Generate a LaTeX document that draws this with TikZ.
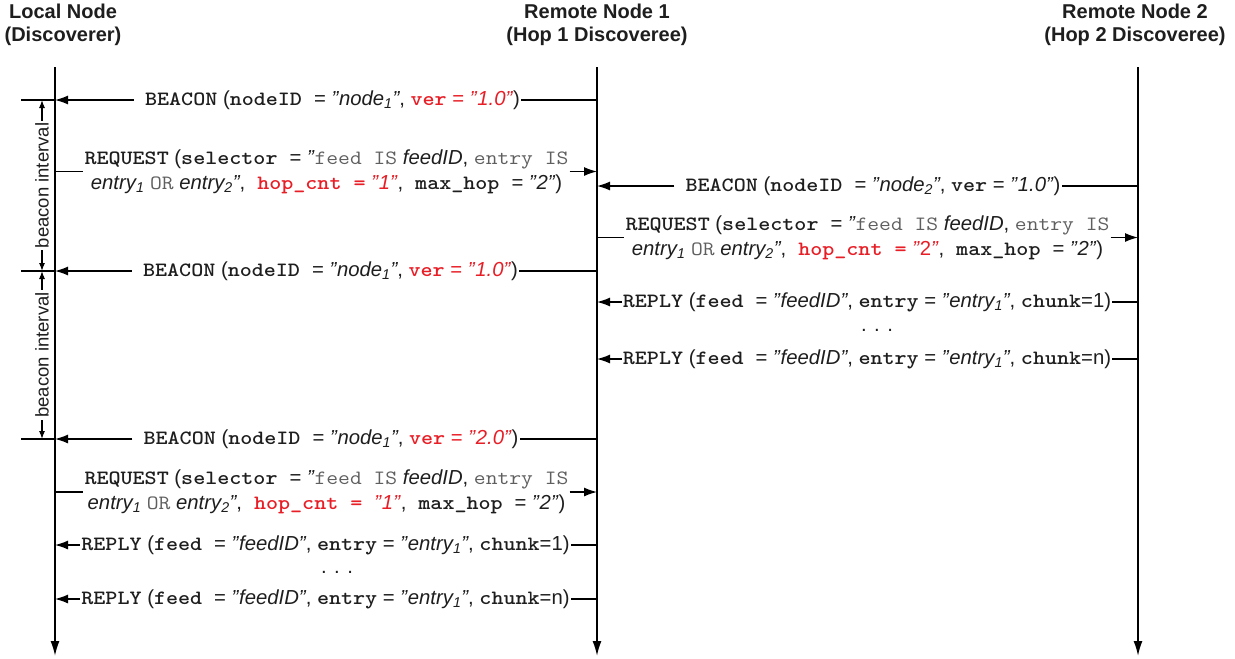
\documentclass[tikz,border=0pt]{standalone}
\usepackage{fontspec}
\usepackage{graphicx}
\setmainfont{Liberation Sans}
\usetikzlibrary{arrows.meta}

\definecolor{rd}{RGB}{232,30,38}
\definecolor{thinmono}{RGB}{95,95,95}
\definecolor{ink}{RGB}{30,30,30}

% keyword in bold typewriter, widened to a Courier-like pitch
\newcommand\kw[1]{\scalebox{1.13}[1]{\ttfamily\bfseries #1}}
% plain typewriter words inside a selector
\newcommand\monotext[1]{\scalebox{1.13}[1]{\ttfamily\color{thinmono}#1}}
\newcommand\q{\textit{"}}
\newcommand\subidx[1]{\textsubscript{#1}}
% a typewriter-wide gap
\newcommand\wg{\hspace{12pt}}

\begin{document}
\begin{tikzpicture}[x=1pt,y=-1pt,
  every node/.style={text=ink},
  headtext/.style={font=\fontsize{20}{23}\selectfont\bfseries, align=center},
  msg/.style={font=\fontsize{20.3}{25}\selectfont, align=center, inner xsep=1pt, inner ysep=0pt},
  life/.style={line width=1.7pt, -{Latex[length=15pt,width=9pt]}},
  wire/.style={line width=1.3pt},
  arrowwire/.style={wire, -{Latex[length=13pt,width=9pt]}},
  dimline/.style={line width=1.1pt, {Latex[length=8pt,width=6pt]}-{Latex[length=8pt,width=6pt]}},
  dimlabel/.style={font=\fontsize{18.5}{20}\selectfont, rotate=90, fill=white, inner sep=2pt},
  tickline/.style={line width=1.1pt},
]
\useasboundingbox (0,0) rectangle (1235,659);

% participants
\node[headtext] (hL) at (63,25) {Local Node\\(Discoverer)};
\node[headtext] (hA) at (597,25) {Remote Node 1\\(Hop 1 Discoveree)};
\node[headtext] (hB) at (1135,25) {Remote Node 2\\(Hop 2 Discoveree)};

% lifelines
\coordinate (Lt) at (55,67);   \coordinate (Lb) at (55,656);
\coordinate (At) at (597,67);  \coordinate (Ab) at (597,656);
\coordinate (Bt) at (1138,67); \coordinate (Bb) at (1138,656);
\draw[life] (Lt) -- (Lb);
\draw[life] (At) -- (Ab);
\draw[life] (Bt) -- (Bb);

% beacon interval markers
\coordinate (d1) at (42,100);
\coordinate (d2) at (42,271);
\coordinate (d3) at (42,439);
\coordinate (t1) at (21,100);
\coordinate (t2) at (21,271);
\coordinate (t3) at (21,439);
\draw[tickline] (t1) -- (Lt |- t1);
\draw[tickline] (t2) -- (Lt |- t2);
\draw[tickline] (t3) -- (Lt |- t3);
\draw[dimline] (d1) -- (d2) node[dimlabel, midway] (bi1) {beacon interval};
\draw[dimline] (d2) -- (d3) node[dimlabel, midway] (bi2) {beacon interval};

% Remote Node 1 -> Local Node: beacon
\node[msg] (m1) at (327.5,100) {\hspace{10pt}\kw{BEACON} (\kw{nodeID}\wg= \q\textit{node\subidx{1}}\q, {\color{rd}\kw{ver} = \q\textit{1.0}\q})};
\draw[wire] (At |- m1) -- (m1.east);
\draw[arrowwire] (m1.west) -- (Lt |- m1);

% Local Node -> Remote Node 1: request
\node[msg] (m2) at (326.5,171.5) {\kw{REQUEST} (\kw{selector}\wg= \q\monotext{feed IS} \textit{feedID}, \monotext{entry IS}\\
\textit{entry\subidx{1}} \monotext{OR} \textit{entry\subidx{2}}\q,\wg{\color{rd}\kw{hop\_cnt =} \q\textit{1}\q},\wg\kw{max\_hop}\wg= \q\textit{2}\q)};
\draw[wire] (Lt |- m2) -- (m2.west);
\draw[arrowwire] (m2.east) -- (At |- m2);

% Remote Node 2 -> Remote Node 1: beacon
\node[msg] (m3) at (868,186) {\hspace{10pt}\kw{BEACON} (\kw{nodeID}\wg= \q\textit{node\subidx{2}}\q, \kw{ver} = \q\textit{1.0}\q)};
\draw[wire] (Bt |- m3) -- (m3.east);
\draw[arrowwire] (m3.west) -- (At |- m3);

% Remote Node 1 -> Remote Node 2: forwarded request
\node[msg] (m4) at (867.5,237.5) {\kw{REQUEST} (\kw{selector}\wg= \q\monotext{feed IS} \textit{feedID}, \monotext{entry IS}\\
\textit{entry\subidx{1}} \monotext{OR} \textit{entry\subidx{2}}\q,\wg{\color{rd}\kw{hop\_cnt =} \q2\q},\wg\kw{max\_hop}\wg= \q\textit{2}\q)};
\draw[wire] (At |- m4) -- (m4.west);
\draw[arrowwire] (m4.east) -- (Bt |- m4);

% Remote Node 1 -> Local Node: second beacon
\node[msg] (m5) at (325.5,271) {\hspace{10pt}\kw{BEACON} (\kw{nodeID}\wg= \q\textit{node\subidx{1}}\q, {\color{rd}\kw{ver} = \q\textit{1.0}\q})};
\draw[wire] (At |- m5) -- (m5.east);
\draw[arrowwire] (m5.west) -- (Lt |- m5);

% Remote Node 2 -> Remote Node 1: replies
\node[msg] (m6) at (867,302) {\kw{REPLY} (\kw{feed}\wg= \q\textit{feedID}\q, \kw{entry} = \q\textit{entry\subidx{1}}\q, \kw{chunk}=1)};
\draw[wire] (Bt |- m6) -- (m6.east);
\draw[arrowwire] (m6.west) -- (At |- m6);
\node[msg] (m7) at (877,330) {. . .};
\node[msg] (m8) at (867,359) {\kw{REPLY} (\kw{feed}\wg= \q\textit{feedID}\q, \kw{entry} = \q\textit{entry\subidx{1}}\q, \kw{chunk}=n)};
\draw[wire] (Bt |- m8) -- (m8.east);
\draw[arrowwire] (m8.west) -- (At |- m8);

% Remote Node 1 -> Local Node: updated beacon
\node[msg] (m9) at (326,439) {\hspace{10pt}\kw{BEACON} (\kw{nodeID}\wg= \q\textit{node\subidx{1}}\q, {\color{rd}\kw{ver} = \q\textit{2.0}\q})};
\draw[wire] (At |- m9) -- (m9.east);
\draw[arrowwire] (m9.west) -- (Lt |- m9);

% Local Node -> Remote Node 1: new request
\node[msg] (m10) at (326.5,492) {\kw{REQUEST} (\kw{selector}\wg= \q\monotext{feed IS} \textit{feedID}, \monotext{entry IS}\\
\textit{entry\subidx{1}} \monotext{OR} \textit{entry\subidx{2}}\q,\wg{\color{rd}\kw{hop\_cnt = }\q\textit{1}\q},\wg\kw{max\_hop}\wg= \q\textit{2}\q)};
\draw[wire] (Lt |- m10) -- (m10.west);
\draw[arrowwire] (m10.east) -- (At |- m10);

% Remote Node 1 -> Local Node: replies
\node[msg] (m11) at (325.5,545) {\kw{REPLY} (\kw{feed}\wg= \q\textit{feedID}\q, \kw{entry} = \q\textit{entry\subidx{1}}\q, \kw{chunk}=1)};
\draw[wire] (At |- m11) -- (m11.east);
\draw[arrowwire] (m11.west) -- (Lt |- m11);
\node[msg] (m12) at (337,572) {. . .};
\node[msg] (m13) at (325.5,599) {\kw{REPLY} (\kw{feed}\wg= \q\textit{feedID}\q, \kw{entry} = \q\textit{entry\subidx{1}}\q, \kw{chunk}=n)};
\draw[wire] (At |- m13) -- (m13.east);
\draw[arrowwire] (m13.west) -- (Lt |- m13);
\end{tikzpicture}
\end{document}
